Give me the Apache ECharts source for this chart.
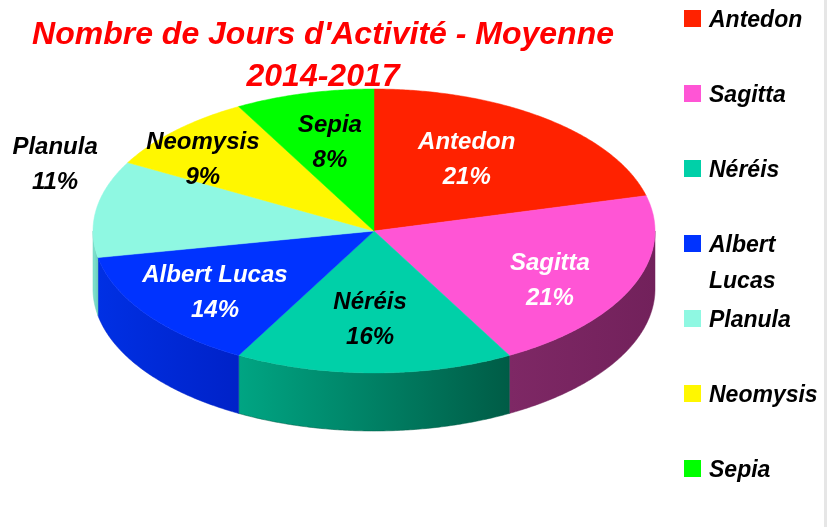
<!DOCTYPE html>
<html>
<head>
<meta charset="utf-8">
<script src="https://cdn.jsdelivr.net/npm/echarts@6/dist/echarts.min.js"></script>
<style>
  html, body { margin: 0; padding: 0; background: #fff; }
  #chart { width: 827px; height: 527px; }
</style>
</head>
<body>
<div id="chart"></div>
<script>
// data
const names = ['Antedon', 'Sagitta', 'Néréis', 'Albert Lucas', 'Planula', 'Neomysis', 'Sepia'];
const values = [21, 21, 16, 14, 11, 9, 8];

// styles
const colors = ['#ff2200', '#ff55d5', '#00d0a8', '#0033ff', '#8ff8e2', '#fff700', '#00ff00'];
const sideColors = [
  ['#b01800', '#8a1200'],
  ['#7e2865', '#72215b'],
  ['#00a583', '#005c46'],
  ['#0030e4', '#0022c8'],
  ['#82e6d2', '#6ccdb9'],
  ['#c8c000', '#a09800'],
  ['#00c000', '#009000']
];
const labelColors = ['#fff', '#fff', '#000', '#fff', '#000', '#000', '#000'];
// label anchors in ellipse units (x / rx, y / ry from centre)
const labelAnchors = [
  [0.33, -0.5], [0.626, 0.352], [-0.014, 0.627], [-0.566, 0.437],
  [-1.135, -0.465], [-0.609, -0.5], [-0.157, -0.62]
];

const FONT = '"Liberation Sans", Arial, sans-serif';
const cx = 374, cy = 231, rx = 281, ry = 142, depth = 58;

const total = values.reduce((a, b) => a + b, 0);
const starts = [];
values.reduce((acc, v) => { starts.push(acc); return acc + v; }, 0);

function pt(a, dy) {
  return [cx + rx * Math.sin(a), cy - ry * Math.cos(a) + (dy || 0)];
}
function arc(a0, a1, dy) {
  const pts = [];
  const n = Math.max(2, Math.ceil((a1 - a0) / (Math.PI / 360)));
  for (let k = 0; k <= n; k++) pts.push(pt(a0 + (a1 - a0) * k / n, dy));
  return pts;
}

function renderSlice(params, api) {
  const i = params.dataIndex;
  const a0 = starts[i] / total * Math.PI * 2;
  const a1 = a0 + api.value(0) / total * Math.PI * 2;
  const children = [];

  // visible front wall
  const lo = Math.max(a0, Math.PI / 2), hi = Math.min(a1, Math.PI * 1.5);
  if (lo < hi) {
    const pts = arc(lo, hi, 0).concat(arc(lo, hi, depth).reverse());
    children.push({
      type: 'polygon',
      z2: 1,
      shape: { points: pts },
      style: {
        fill: new echarts.graphic.LinearGradient(0, 0, 1, 0, [
          { offset: 0, color: sideColors[i][0] },
          { offset: 1, color: sideColors[i][1] }
        ]),
        stroke: sideColors[i][1],
        lineWidth: 0.5
      }
    });
  }

  // top face
  children.push({
    type: 'polygon',
    z2: 10,
    shape: { points: [[cx, cy]].concat(arc(a0, a1, 0)) },
    style: { fill: colors[i], stroke: colors[i], lineWidth: 0.5 }
  });

  const la = labelAnchors[i];
  children.push({
    type: 'text',
    z2: 20,
    style: {
      text: names[i] + '\n' + api.value(0) + '%',
      x: cx + la[0] * rx,
      y: cy + la[1] * ry,
      fill: labelColors[i],
      font: 'italic bold 24px ' + FONT,
      align: 'center',
      verticalAlign: 'middle',
      lineHeight: 35
    }
  });
  return { type: 'group', children: children };
}

// legend drawn as graphics (fixed 75px pitch as in the original)
const legendGraphics = [];
names.forEach((name, i) => {
  const yc = 18 + i * 75;
  legendGraphics.push({
    type: 'rect',
    left: 684, top: yc - 8,
    shape: { width: 17, height: 17 },
    style: { fill: colors[i] }
  });
  legendGraphics.push({
    type: 'text',
    x: 709, y: yc - 15,
    style: {
      text: name,
      fill: '#000',
      font: 'italic bold 23px ' + FONT,
      width: 116,
      overflow: 'break',
      lineHeight: 36,
      verticalAlign: 'top'
    }
  });
});
legendGraphics.push({
  type: 'rect',
  left: 824, top: 0,
  shape: { width: 3, height: 527 },
  style: { fill: '#e6e6e6' }
});

const chart = echarts.init(document.getElementById('chart'));
chart.setOption({
  backgroundColor: '#fff',
  animation: false,
  title: {
    text: "Nombre de Jours d'Activité - Moyenne\n2014-2017",
    left: 323,
    top: 14,
    padding: 0,
    textAlign: 'center',
    textStyle: {
      color: '#ff0000',
      fontSize: 32,
      fontWeight: 'bold',
      fontStyle: 'italic',
      fontFamily: FONT,
      lineHeight: 42
    }
  },
  graphic: legendGraphics,
  series: [{
    type: 'custom',
    coordinateSystem: 'none',
    renderItem: renderSlice,
    data: values.map((v, i) => ({ name: names[i], value: v }))
  }]
});
</script>
</body>
</html>
